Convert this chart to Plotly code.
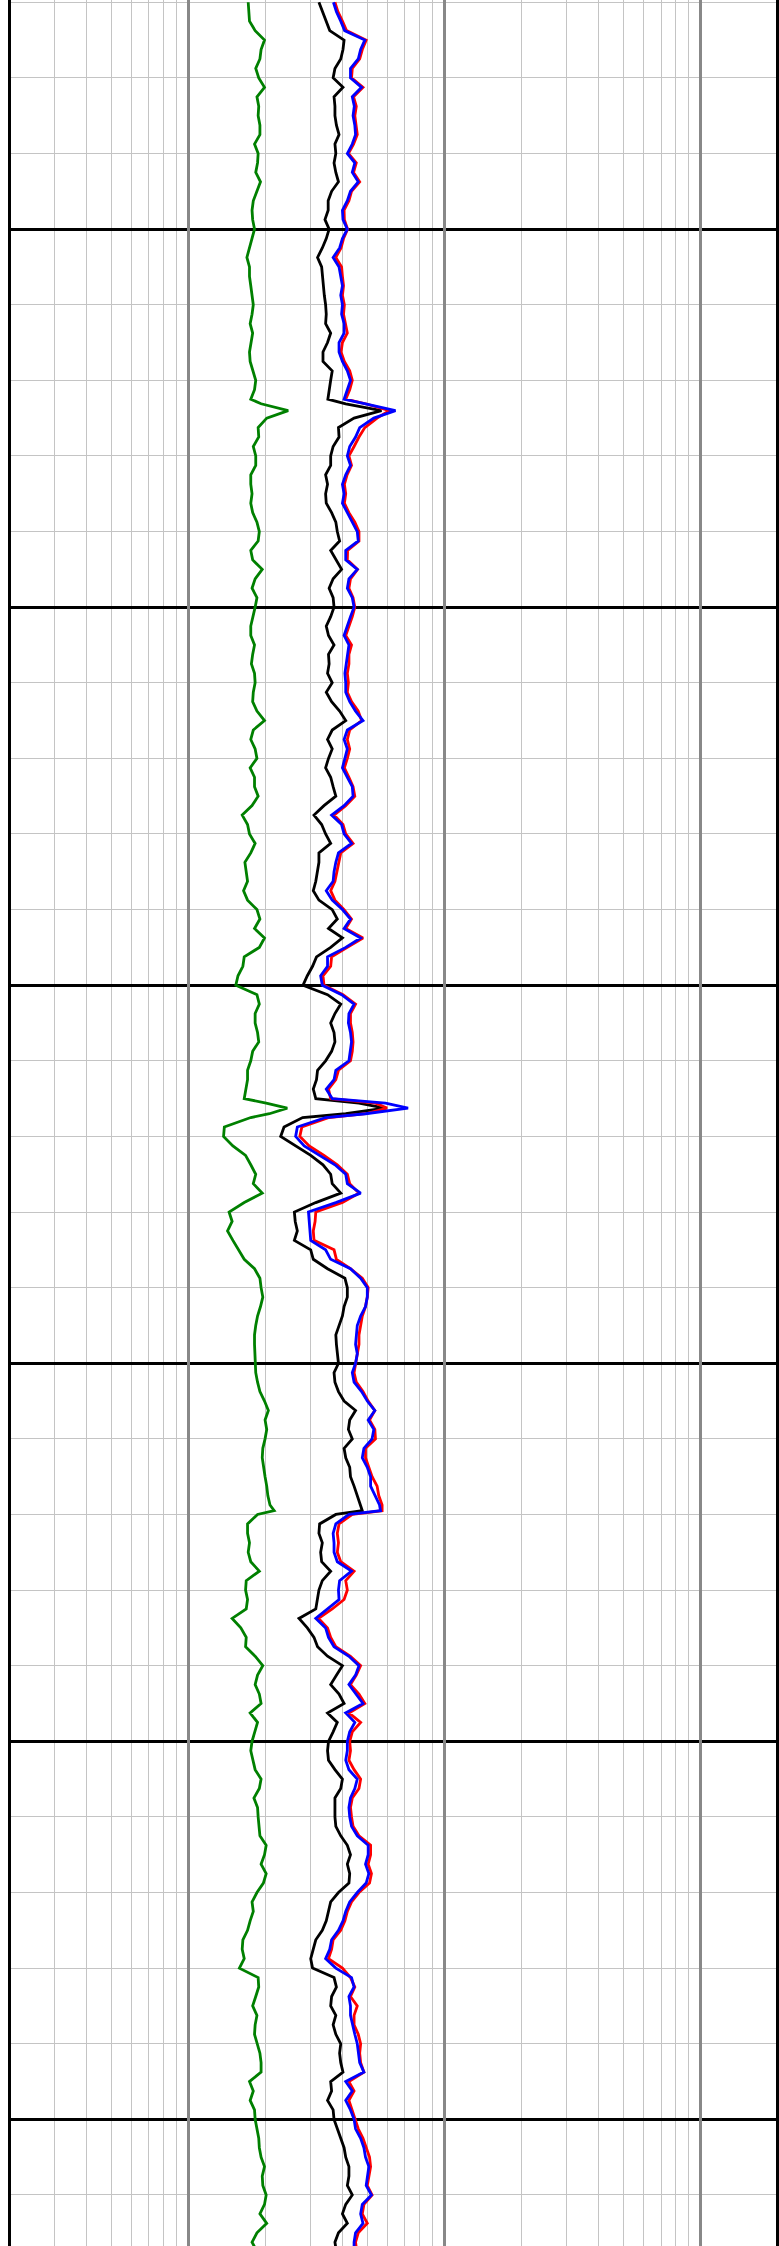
import plotly.graph_objects as go

depth = [
    1004.00, 1004.25, 1004.50, 1004.75, 1005.00, 1005.25, 1005.50, 1005.75, 1006.00, 1006.25,
    1006.50, 1006.75, 1007.00, 1007.25, 1007.50, 1007.75, 1008.00, 1008.25, 1008.50, 1008.75,
    1009.00, 1009.25, 1009.50, 1009.75, 1010.00, 1010.25, 1010.50, 1010.75, 1011.00, 1011.25,
    1011.50, 1011.75, 1012.00, 1012.25, 1012.50, 1012.75, 1013.00, 1013.25, 1013.50, 1013.75,
    1014.00, 1014.25, 1014.50, 1014.62, 1014.80, 1015.00, 1015.25, 1015.50, 1015.75, 1016.00,
    1016.25, 1016.50, 1016.75, 1017.00, 1017.25, 1017.50, 1017.75, 1018.00, 1018.25, 1018.50,
    1018.75, 1019.00, 1019.25, 1019.50, 1019.75, 1020.00, 1020.25, 1020.50, 1020.75, 1021.00,
    1021.25, 1021.50, 1021.75, 1022.00, 1022.25, 1022.50, 1022.75, 1023.00, 1023.25, 1023.50,
    1023.75, 1024.00, 1024.25, 1024.50, 1024.75, 1025.00, 1025.25, 1025.50, 1025.75, 1026.00,
    1026.25, 1026.50, 1026.75, 1027.00, 1027.25, 1027.50, 1027.75, 1028.00, 1028.25, 1028.50,
    1028.75, 1029.00, 1029.25, 1029.50, 1029.75, 1030.00, 1030.25, 1030.50, 1030.75, 1031.00,
    1031.25, 1031.50, 1031.75, 1032.00, 1032.25, 1032.50, 1032.75, 1033.00, 1033.12, 1033.25,
    1033.40, 1033.50, 1033.75, 1034.00, 1034.25, 1034.50, 1034.75, 1035.00, 1035.25, 1035.50,
    1035.75, 1036.00, 1036.25, 1036.50, 1036.75, 1037.00, 1037.25, 1037.50, 1037.75, 1038.00,
    1038.25, 1038.50, 1038.75, 1039.00, 1039.25, 1039.50, 1039.75, 1040.00, 1040.25, 1040.50,
    1040.75, 1041.00, 1041.25, 1041.50, 1041.75, 1042.00, 1042.25, 1042.50, 1042.75, 1043.00,
    1043.25, 1043.50, 1043.75, 1043.90, 1044.00, 1044.25, 1044.50, 1044.75, 1045.00, 1045.25,
    1045.50, 1045.75, 1046.00, 1046.25, 1046.50, 1046.75, 1047.00, 1047.25, 1047.50, 1047.75,
    1048.00, 1048.25, 1048.50, 1048.75, 1049.00, 1049.25, 1049.50, 1049.75, 1050.00, 1050.25,
    1050.50, 1050.75, 1051.00, 1051.25, 1051.50, 1051.75, 1052.00, 1052.25, 1052.50, 1052.75,
    1053.00, 1053.25, 1053.50, 1053.75, 1054.00, 1054.25, 1054.50, 1054.75, 1055.00, 1055.25,
    1055.50, 1055.75, 1056.00, 1056.25, 1056.50, 1056.75, 1057.00, 1057.25, 1057.50, 1057.75,
    1058.00, 1058.25, 1058.50, 1058.75, 1059.00, 1059.25, 1059.50, 1059.75, 1060.00, 1060.25,
    1060.50, 1060.75, 1061.00, 1061.25, 1061.50, 1061.75, 1062.00, 1062.25, 1062.50, 1062.75,
    1063.00, 1063.25, 1063.40,
]

green_vals = [
    1.71, 1.72, 1.73, 1.82, 1.98, 1.92, 1.90, 1.83, 1.88, 1.98,
    1.85, 1.88, 1.87, 1.90, 1.90, 1.81, 1.87, 1.86, 1.83, 1.91,
    1.85, 1.79, 1.77, 1.78, 1.81, 1.77, 1.72, 1.69, 1.73, 1.73,
    1.75, 1.77, 1.79, 1.77, 1.74, 1.78, 1.75, 1.73, 1.74, 1.79,
    1.83, 1.81, 1.75, 1.92, 2.45, 2.02, 1.87, 1.88, 1.79, 1.83,
    1.83, 1.75, 1.75, 1.77, 1.75, 1.78, 1.85, 1.89, 1.87, 1.75,
    1.78, 1.94, 1.82, 1.77, 1.85, 1.82, 1.79, 1.75, 1.75, 1.81,
    1.78, 1.76, 1.81, 1.82, 1.79, 1.78, 1.85, 1.98, 1.79, 1.75,
    1.82, 1.85, 1.74, 1.81, 1.81, 1.87, 1.77, 1.62, 1.70, 1.73,
    1.82, 1.75, 1.66, 1.68, 1.70, 1.64, 1.70, 1.85, 1.90, 1.81,
    1.98, 1.89, 1.65, 1.63, 1.56, 1.53, 1.85, 1.89, 1.82, 1.82,
    1.86, 1.88, 1.78, 1.75, 1.70, 1.70, 1.67, 1.65, 2.01, 2.43,
    2.07, 1.75, 1.38, 1.37, 1.49, 1.67, 1.75, 1.83, 1.79, 1.94,
    1.65, 1.44, 1.48, 1.42, 1.49, 1.57, 1.65, 1.81, 1.90, 1.92,
    1.95, 1.91, 1.86, 1.83, 1.81, 1.81, 1.82, 1.83, 1.83, 1.86,
    1.90, 1.98, 2.05, 1.99, 2.02, 1.99, 1.95, 1.94, 1.96, 1.99,
    2.02, 2.04, 2.08, 2.16, 1.86, 1.70, 1.70, 1.73, 1.71, 1.75,
    1.89, 1.68, 1.67, 1.70, 1.68, 1.48, 1.60, 1.68, 1.67, 1.82,
    1.95, 1.86, 1.82, 1.89, 1.92, 1.74, 1.86, 1.81, 1.77, 1.75,
    1.78, 1.82, 1.92, 1.89, 1.80, 1.86, 1.87, 1.88, 1.90, 2.01,
    1.98, 1.92, 2.01, 1.96, 1.85, 1.77, 1.79, 1.74, 1.70, 1.63,
    1.62, 1.65, 1.58, 1.87, 1.88, 1.83, 1.78, 1.85, 1.82, 1.81,
    1.86, 1.90, 1.92, 1.92, 1.73, 1.79, 1.74, 1.81, 1.82, 1.85,
    1.88, 1.89, 1.92, 1.98, 1.94, 1.95, 2.01, 1.98, 1.90, 2.02,
    1.85, 1.77, 1.82,
]

black_vals = [
    3.23, 3.33, 3.43, 3.56, 4.05, 4.01, 3.93, 3.73, 3.67, 4.01,
    3.70, 3.73, 3.73, 3.78, 3.87, 3.73, 3.76, 3.70, 3.76, 3.85,
    3.62, 3.51, 3.51, 3.41, 3.54, 3.45, 3.33, 3.19, 3.31, 3.33,
    3.35, 3.39, 3.43, 3.45, 3.43, 3.59, 3.49, 3.35, 3.35, 3.64,
    3.59, 3.54, 3.50, 4.11, 5.67, 4.43, 3.85, 3.87, 3.67, 3.59,
    3.59, 3.43, 3.49, 3.43, 3.45, 3.62, 3.76, 3.81, 3.89, 3.59,
    3.76, 3.96, 3.67, 3.54, 3.67, 3.70, 3.59, 3.45, 3.52, 3.70,
    3.52, 3.54, 3.49, 3.64, 3.45, 3.62, 3.89, 4.11, 3.64, 3.49,
    3.64, 3.52, 3.43, 3.59, 3.67, 3.76, 3.38, 3.09, 3.31, 3.43,
    3.59, 3.23, 3.23, 3.19, 3.14, 3.07, 3.23, 3.64, 3.81, 3.52,
    3.99, 3.59, 3.16, 3.05, 2.91, 2.80, 3.49, 3.93, 3.73, 3.59,
    3.70, 3.73, 3.62, 3.43, 3.19, 3.16, 3.07, 3.14, 4.63, 5.84,
    4.11, 2.79, 2.36, 2.29, 2.62, 3.00, 3.35, 3.59, 3.64, 3.93,
    3.14, 2.59, 2.61, 2.66, 2.59, 3.00, 3.07, 3.49, 4.08, 4.17,
    4.17, 4.05, 3.99, 3.87, 3.76, 3.78, 3.81, 3.85, 3.70, 3.73,
    3.85, 4.05, 4.49, 4.26, 4.21, 4.36, 4.05, 4.11, 4.26, 4.29,
    4.43, 4.56, 4.70, 4.77, 3.76, 3.25, 3.23, 3.33, 3.28, 3.31,
    3.59, 3.33, 3.23, 3.19, 3.14, 2.70, 2.91, 3.09, 3.19, 3.49,
    3.99, 3.78, 3.59, 3.87, 4.05, 3.49, 3.81, 3.67, 3.52, 3.49,
    3.52, 3.73, 3.99, 3.93, 3.73, 3.73, 3.73, 3.76, 3.93, 4.17,
    4.29, 4.17, 4.26, 4.23, 3.85, 3.59, 3.52, 3.45, 3.33, 3.14,
    3.07, 3.00, 3.05, 3.70, 3.78, 3.62, 3.59, 3.76, 3.67, 3.76,
    3.93, 3.89, 3.93, 4.01, 3.59, 3.62, 3.49, 3.67, 3.70, 3.81,
    3.93, 4.05, 4.11, 4.23, 4.23, 4.17, 4.36, 4.11, 3.99, 4.17,
    3.85, 3.73, 3.76,
]

red_vals = [
    3.73, 3.83, 3.99, 4.14, 4.94, 4.77, 4.66, 4.36, 4.33, 4.80,
    4.41, 4.52, 4.46, 4.52, 4.56, 4.41, 4.21, 4.52, 4.41, 4.66,
    4.33, 4.23, 4.05, 4.06, 4.18, 4.03, 3.94, 3.76, 3.96, 3.99,
    4.03, 3.99, 4.06, 4.03, 4.11, 4.17, 3.99, 3.94, 4.06, 4.26,
    4.36, 4.26, 4.11, 4.91, 6.09, 5.45, 4.88, 4.63, 4.43, 4.23,
    4.33, 4.16, 4.06, 4.11, 4.06, 4.23, 4.46, 4.63, 4.63, 4.18,
    4.17, 4.57, 4.29, 4.23, 4.39, 4.46, 4.36, 4.23, 4.11, 4.33,
    4.23, 4.23, 4.17, 4.21, 4.17, 4.33, 4.60, 4.74, 4.26, 4.17,
    4.26, 4.17, 4.06, 4.23, 4.39, 4.46, 4.11, 3.70, 4.01, 4.11,
    4.39, 3.93, 3.87, 3.81, 3.73, 3.59, 3.73, 4.05, 4.33, 4.11,
    4.80, 4.17, 3.62, 3.59, 3.35, 3.38, 4.01, 4.49, 4.29, 4.29,
    4.36, 4.39, 4.36, 4.29, 3.85, 3.76, 3.52, 3.59, 5.37, 5.96,
    4.91, 3.54, 2.77, 2.72, 2.96, 3.38, 3.81, 4.17, 4.26, 4.63,
    3.99, 3.14, 3.12, 3.07, 3.09, 3.70, 3.78, 4.29, 4.77, 5.03,
    4.99, 4.91, 4.77, 4.70, 4.63, 4.63, 4.56, 4.52, 4.43, 4.52,
    4.80, 5.03, 5.34, 5.09, 5.34, 5.37, 4.91, 4.91, 5.06, 5.21,
    5.45, 5.53, 5.70, 5.70, 4.36, 3.87, 3.81, 3.85, 3.81, 3.93,
    4.43, 4.11, 4.17, 4.05, 3.64, 3.22, 3.49, 3.59, 3.76, 4.29,
    4.70, 4.52, 4.29, 4.63, 4.88, 4.23, 4.70, 4.36, 4.26, 4.29,
    4.23, 4.43, 4.70, 4.63, 4.36, 4.29, 4.33, 4.39, 4.63, 5.14,
    5.14, 5.03, 5.18, 5.09, 4.63, 4.33, 4.17, 4.08, 3.93, 3.67,
    3.62, 3.52, 3.99, 4.29, 4.46, 4.29, 4.56, 4.43, 4.43, 4.60,
    4.70, 4.66, 4.70, 4.84, 4.23, 4.43, 4.23, 4.36, 4.49, 4.60,
    4.80, 4.94, 5.09, 5.14, 5.06, 4.99, 5.21, 4.84, 4.77, 4.99,
    4.60, 4.49, 4.52,
]

blue_vals = [
    3.68, 3.78, 3.93, 4.07, 4.88, 4.70, 4.60, 4.29, 4.29, 4.74,
    4.36, 4.44, 4.39, 4.46, 4.49, 4.36, 4.17, 4.46, 4.36, 4.60,
    4.29, 4.17, 3.99, 4.01, 4.17, 3.99, 3.89, 3.67, 3.87, 3.93,
    3.99, 3.93, 3.99, 3.96, 4.05, 4.05, 3.87, 3.87, 3.99, 4.17,
    4.29, 4.17, 4.05, 4.91, 6.43, 5.29, 4.66, 4.49, 4.26, 4.17,
    4.29, 4.11, 3.99, 4.05, 3.99, 4.17, 4.36, 4.56, 4.60, 4.11,
    4.11, 4.56, 4.23, 4.17, 4.36, 4.43, 4.29, 4.17, 4.05, 4.23,
    4.17, 4.13, 4.08, 4.11, 4.11, 4.26, 4.49, 4.80, 4.17, 4.05,
    4.17, 4.08, 3.99, 4.17, 4.36, 4.39, 4.05, 3.62, 3.96, 4.05,
    4.33, 3.85, 3.76, 3.70, 3.67, 3.45, 3.64, 3.99, 4.29, 4.05,
    4.70, 4.11, 3.49, 3.49, 3.28, 3.33, 3.96, 4.43, 4.23, 4.21,
    4.29, 4.33, 4.29, 4.23, 3.76, 3.70, 3.45, 3.64, 5.88, 7.20,
    4.91, 3.43, 2.66, 2.62, 2.83, 3.23, 3.73, 4.11, 4.17, 4.70,
    3.76, 2.94, 2.96, 2.97, 3.00, 3.43, 3.59, 4.29, 4.70, 4.99,
    4.99, 4.91, 4.70, 4.56, 4.52, 4.49, 4.56, 4.49, 4.36, 4.43,
    4.74, 4.99, 5.34, 5.03, 5.29, 5.21, 4.84, 4.77, 4.99, 5.14,
    5.14, 5.37, 5.57, 5.62, 4.23, 3.76, 3.67, 3.70, 3.70, 3.81,
    4.33, 3.89, 3.85, 3.87, 3.49, 3.14, 3.43, 3.52, 3.70, 4.23,
    4.63, 4.49, 4.23, 4.49, 4.80, 4.11, 4.46, 4.26, 4.17, 4.17,
    4.11, 4.23, 4.56, 4.46, 4.29, 4.23, 4.26, 4.33, 4.56, 5.03,
    5.03, 4.91, 5.06, 4.94, 4.56, 4.26, 4.11, 4.01, 3.85, 3.62,
    3.56, 3.43, 3.76, 4.33, 4.43, 4.23, 4.29, 4.29, 4.36, 4.46,
    4.56, 4.60, 4.66, 4.84, 4.11, 4.36, 4.11, 4.29, 4.43, 4.49,
    4.70, 4.84, 4.91, 5.06, 4.99, 4.94, 5.18, 4.77, 4.70, 4.80,
    4.49, 4.43, 4.43,
]

fine_grid_x = [0.3, 0.4, 0.5, 0.6, 0.7, 0.8, 0.9,
               2, 3, 4, 5, 6, 7, 8, 9,
               20, 30, 40, 50, 60, 70, 80, 90]
decade_grid_x = [1, 10, 100]
x_log_range = [-0.6933, 2.2941]
depth_limits = [1063.35, 1003.94]

fig = go.Figure()
fig.add_trace(go.Scatter(x=green_vals, y=depth, mode="lines", xaxis="x2",
                         line=dict(color="#008000", width=2.8), hoverinfo="skip"))
fig.add_trace(go.Scatter(x=black_vals, y=depth, mode="lines",
                         line=dict(color="#000000", width=2.8), hoverinfo="skip"))
fig.add_trace(go.Scatter(x=red_vals, y=depth, mode="lines",
                         line=dict(color="#ff0000", width=2.8), hoverinfo="skip"))
fig.add_trace(go.Scatter(x=blue_vals, y=depth, mode="lines",
                         line=dict(color="#0000ff", width=2.8), hoverinfo="skip"))

fig.update_layout(
    width=779, height=2246,
    margin=dict(l=11, r=1, t=0, b=0),
    plot_bgcolor="white", paper_bgcolor="white",
    showlegend=False,
    hovermode=False,
    xaxis=dict(type="log", range=x_log_range, tickmode="array", tickvals=fine_grid_x,
               showticklabels=False, ticks="", showgrid=True,
               gridcolor="#c4c4c4", gridwidth=1, zeroline=False, showline=False),
    xaxis2=dict(type="log", range=x_log_range, overlaying="x", anchor="y", tickmode="array",
                tickvals=decade_grid_x, showticklabels=False, ticks="", showgrid=True,
                gridcolor="#888888", gridwidth=3, zeroline=False, showline=False),
    yaxis=dict(range=depth_limits, tick0=1000, dtick=10, showticklabels=False, ticks="",
               showgrid=True, gridcolor="#000000", gridwidth=3, zeroline=False,
               minor=dict(tick0=1000, dtick=2, showgrid=True, gridcolor="#c4c4c4", gridwidth=1),
               showline=True, mirror=True, linecolor="#000000", linewidth=3),
)

fig.write_html("out.html",
               config={"displayModeBar": False, "staticPlot": True},
               post_script="document.body.style.margin='0';document.body.style.padding='0';")
